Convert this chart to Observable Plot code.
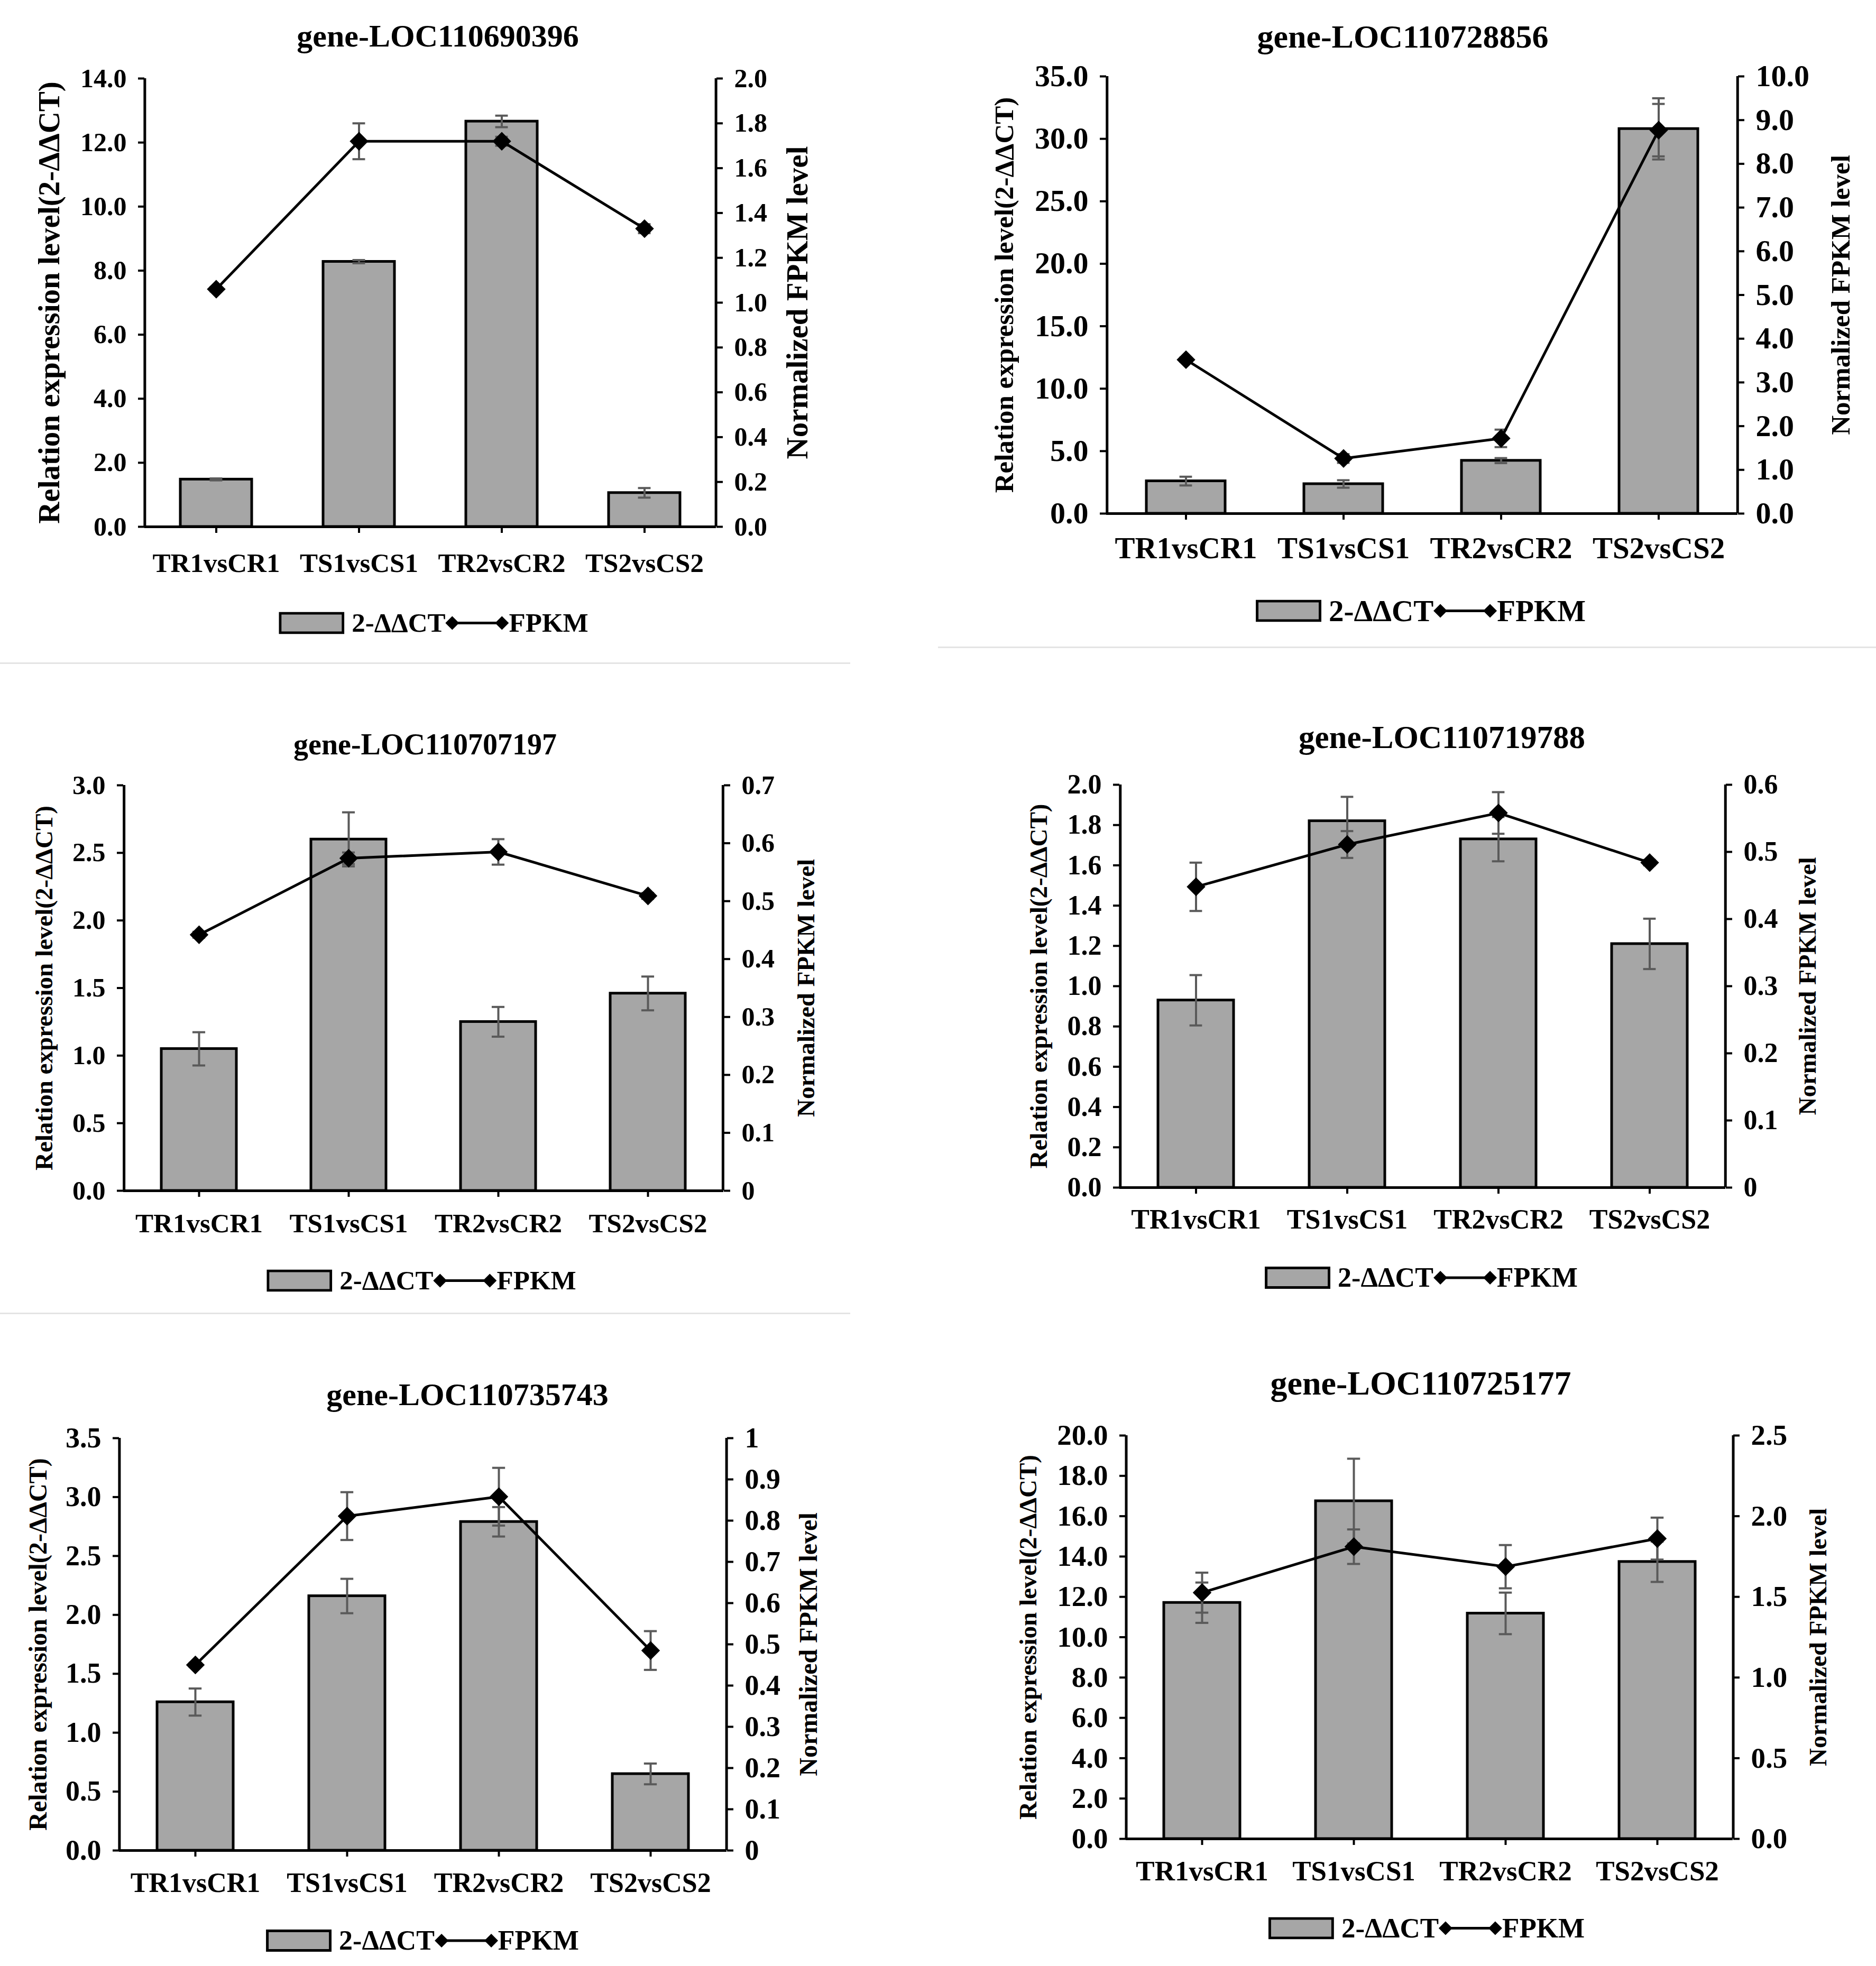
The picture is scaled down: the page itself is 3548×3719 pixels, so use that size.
<!DOCTYPE html>
<html>
<head>
<meta charset="utf-8">
<script src="https://cdn.jsdelivr.net/npm/d3@7"></script>
<script src="https://cdn.jsdelivr.net/npm/@observablehq/plot@0.6"></script>
<style>
  body { margin: 0; background: #fff; }
  #page { position: relative; width: 3548px; height: 3719px; overflow: hidden;
          font-family: "Liberation Serif", "Times New Roman", serif; font-weight: bold; color: #000; }
  .layer { position: absolute; }
  .layer svg { overflow: visible; }
  .title { position: absolute; transform: translate(-50%, -50%); white-space: nowrap; line-height: 1; }
  .legend { position: absolute; transform: translate(-50%, -50%); display: flex; align-items: center;
            white-space: nowrap; line-height: 1; }
  .sep { position: absolute; height: 3px; background: #e4e4e4; }
</style>
</head>
<body>
<div id="page"></div>
<script>
const categories = ["TR1vsCR1", "TS1vsCS1", "TR2vsCR2", "TS2vsCS2"];
const genes = ["gene-LOC110690396", "gene-LOC110728856", "gene-LOC110707197",
               "gene-LOC110719788", "gene-LOC110735743", "gene-LOC110725177"];
const leftTitle = "Relation expression level(2-ΔΔCT)";
const rightTitle = "Normalized FPKM level";

// 2-ΔΔCT bars (left axis) and FPKM line (right axis), with error half-widths
const ct1 = [1.48, 8.28, 12.66, 1.06];
const ctErr1 = [0.03, 0.05, 0.18, 0.15];
const fpkm1 = [1.06, 1.72, 1.72, 1.33];
const fpkmErr1 = [0.01, 0.08, 0.02, 0.02];

const ct2 = [2.6, 2.37, 4.24, 30.8];
const ctErr2 = [0.35, 0.3, 0.2, 2.45];
const fpkm2 = [3.52, 1.26, 1.72, 8.77];
const fpkmErr2 = [0.05, 0.1, 0.2, 0.6];

const ct3 = [1.05, 2.6, 1.25, 1.46];
const ctErr3 = [0.123, 0.2, 0.11, 0.125];
const fpkm3 = [0.442, 0.574, 0.585, 0.509];
const fpkmErr3 = [0.005, 0.01, 0.022, 0.005];

const ct4 = [0.93, 1.82, 1.73, 1.21];
const ctErr4 = [0.125, 0.12, 0.11, 0.125];
const fpkm4 = [0.448, 0.511, 0.558, 0.484];
const fpkmErr4 = [0.036, 0.02, 0.031, 0.004];

const ct5 = [1.26, 2.16, 2.79, 0.65];
const ctErr5 = [0.115, 0.146, 0.125, 0.088];
const fpkm5 = [0.45, 0.811, 0.858, 0.485];
const fpkmErr5 = [0.005, 0.058, 0.07, 0.047];

const ct6 = [11.71, 16.75, 11.18, 13.74];
const ctErr6 = [1.0, 2.1, 1.03, 1.0];
const fpkm6 = [1.526, 1.811, 1.687, 1.861];
const fpkmErr6 = [0.124, 0.107, 0.134, 0.13];

// tick labels as printed
const leftTicks1 = ["0.0", "2.0", "4.0", "6.0", "8.0", "10.0", "12.0", "14.0"];
const rightTicks1 = ["0.0", "0.2", "0.4", "0.6", "0.8", "1.0", "1.2", "1.4", "1.6", "1.8", "2.0"];
const leftTicks2 = ["0.0", "5.0", "10.0", "15.0", "20.0", "25.0", "30.0", "35.0"];
const rightTicks2 = ["0.0", "1.0", "2.0", "3.0", "4.0", "5.0", "6.0", "7.0", "8.0", "9.0", "10.0"];
const leftTicks3 = ["0.0", "0.5", "1.0", "1.5", "2.0", "2.5", "3.0"];
const rightTicks3 = ["0", "0.1", "0.2", "0.3", "0.4", "0.5", "0.6", "0.7"];
const leftTicks4 = ["0.0", "0.2", "0.4", "0.6", "0.8", "1.0", "1.2", "1.4", "1.6", "1.8", "2.0"];
const rightTicks4 = ["0", "0.1", "0.2", "0.3", "0.4", "0.5", "0.6"];
const leftTicks5 = ["0.0", "0.5", "1.0", "1.5", "2.0", "2.5", "3.0", "3.5"];
const rightTicks5 = ["0", "0.1", "0.2", "0.3", "0.4", "0.5", "0.6", "0.7", "0.8", "0.9", "1"];
const leftTicks6 = ["0.0", "2.0", "4.0", "6.0", "8.0", "10.0", "12.0", "14.0", "16.0", "18.0", "20.0"];
const rightTicks6 = ["0.0", "0.5", "1.0", "1.5", "2.0", "2.5"];

// layout of each panel in page pixels
const panels = [
  {gene: genes[0], ct: ct1, ctErr: ctErr1, fpkm: fpkm1, fpkmErr: fpkmErr1, lt: leftTicks1, rt: rightTicks1,
   col: 0, L: 273, R: 1354, T: 148, B: 996, tx: 828, ty: 68, titleSize: 60, tickFont: 50, catFont: 51,
   catPad: 37, axisTitleSize: 57, leftOff: 180, rightOff: 154, lx: 820, ly: 1178},
  {gene: genes[1], ct: ct2, ctErr: ctErr2, fpkm: fpkm2, fpkmErr: fpkmErr2, lt: leftTicks2, rt: rightTicks2,
   col: 1, L: 2092, R: 3286, T: 144, B: 971, tx: 2653, ty: 69, titleSize: 62, tickFont: 58, catFont: 57,
   catPad: 32, axisTitleSize: 51, leftOff: 193, rightOff: 195, lx: 2687, ly: 1155},
  {gene: genes[2], ct: ct3, ctErr: ctErr3, fpkm: fpkm3, fpkmErr: fpkmErr3, lt: leftTicks3, rt: rightTicks3,
   col: 0, L: 233, R: 1368, T: 1485, B: 2252, tx: 804, ty: 1408, titleSize: 56, tickFont: 50, catFont: 51,
   catPad: 30, axisTitleSize: 47, leftOff: 150, rightOff: 156, lx: 797, ly: 2422},
  {gene: genes[3], ct: ct4, ctErr: ctErr4, fpkm: fpkm4, fpkmErr: fpkmErr4, lt: leftTicks4, rt: rightTicks4,
   col: 1, L: 2117, R: 3263, T: 1484, B: 2246, tx: 2727, ty: 1394, titleSize: 61, tickFont: 52, catFont: 52,
   catPad: 29, axisTitleSize: 47, leftOff: 153, rightOff: 155, lx: 2688, ly: 2417},
  {gene: genes[4], ct: ct5, ctErr: ctErr5, fpkm: fpkm5, fpkmErr: fpkmErr5, lt: leftTicks5, rt: rightTicks5,
   col: 0, L: 225, R: 1374, T: 2720, B: 3500, tx: 884, ty: 2638, titleSize: 60, tickFont: 54, catFont: 52,
   catPad: 30, axisTitleSize: 48, leftOff: 153, rightOff: 155, lx: 799, ly: 3671},
  {gene: genes[5], ct: ct6, ctErr: ctErr6, fpkm: fpkm6, fpkmErr: fpkmErr6, lt: leftTicks6, rt: rightTicks6,
   col: 1, L: 2129, R: 3277, T: 2715, B: 3478, tx: 2687, ty: 2617, titleSize: 64, tickFont: 55, catFont: 53,
   catPad: 29, axisTitleSize: 47, leftOff: 185, rightOff: 161, lx: 2698, ly: 3647},
];

const page = document.getElementById("page");
const COLW = 1774;
const barFill = "#a6a6a6";
const errColor = "#5a5a5a";
const SW = 5;

function place(el, left, top) {
  el.style.left = left + "px";
  el.style.top = top + "px";
  page.append(el);
  return el;
}

function errorMarks(rows, v, e, inset) {
  return [
    Plot.ruleX(rows, {x: "cat", y1: d => d[v] - d[e], y2: d => d[v] + d[e], stroke: errColor, strokeWidth: 4}),
    Plot.tickY(rows, {x: "cat", y: d => d[v] + d[e], stroke: errColor, strokeWidth: 4, insetLeft: inset, insetRight: inset}),
    Plot.tickY(rows, {x: "cat", y: d => d[v] - d[e], stroke: errColor, strokeWidth: 4, insetLeft: inset, insetRight: inset}),
  ];
}

function drawPanel(p) {
  const x0 = p.col * COLW;
  const mt = 40, mb = 150;
  const height = mt + (p.B - p.T) + mb;
  const rows = categories.map((c, i) => ({
    cat: c, ct: p.ct[i], ctErr: p.ctErr[i], fpkm: p.fpkm[i], fpkmErr: p.fpkmErr[i]
  }));
  const step = (p.R - p.L) / 4;
  const inset = (step * 0.5 - 24) / 2;
  const leftVals = p.lt.map(Number), rightVals = p.rt.map(Number);
  const leftMax = d3.max(leftVals);
  const leftFmt = new Map(leftVals.map((v, i) => [v, p.lt[i]]));
  const rightFmt = new Map(rightVals.map((v, i) => [v, p.rt[i]]));
  const common = {
    width: COLW, height,
    marginLeft: p.L - x0, marginRight: x0 + COLW - p.R, marginTop: mt, marginBottom: mb,
  };
  const font = {fontFamily: "Liberation Serif", fontWeight: "bold", color: "black", overflow: "visible"};

  const bars = Plot.plot({
    ...common,
    style: {...font, background: "white"},
    x: {type: "band", domain: categories, paddingInner: 0.5, paddingOuter: 0.25},
    y: {domain: [0, leftMax]},
    marks: [
      Plot.barY(rows, {x: "cat", y: "ct", fill: barFill, stroke: "black", strokeWidth: SW}),
      ...errorMarks(rows, "ct", "ctErr", inset),
      // axis lines: left, right and bottom edges of the frame
      Plot.ruleX([categories[0]], {x: d => d, y1: 0, y2: leftMax, dx: -step / 2, stroke: "black", strokeWidth: SW}),
      Plot.ruleX([categories[3]], {x: d => d, y1: 0, y2: leftMax, dx: step / 2, stroke: "black", strokeWidth: SW}),
      Plot.ruleY([0], {stroke: "black", strokeWidth: SW}),
      Plot.axisY({anchor: "left", ticks: leftVals, tickFormat: d => leftFmt.get(d), tickSize: 12,
                  tickPadding: 22, strokeWidth: 4, label: null, fontSize: p.tickFont}),
      Plot.axisX({anchor: "bottom", tickSize: 12, tickPadding: p.catPad, strokeWidth: 4,
                  label: null, fontSize: p.catFont}),
      Plot.text([leftTitle], {text: d => d, frameAnchor: "left", textAnchor: "middle", rotate: -90,
                              dx: -p.leftOff, fontSize: p.axisTitleSize}),
    ],
  });

  const line = Plot.plot({
    ...common,
    style: {...font, background: "transparent"},
    x: {type: "band", domain: categories, paddingInner: 0.5, paddingOuter: 0.25, axis: null},
    y: {domain: [0, d3.max(rightVals)]},
    marks: [
      ...errorMarks(rows, "fpkm", "fpkmErr", inset),
      Plot.line(rows, {x: "cat", y: "fpkm", stroke: "black", strokeWidth: SW}),
      Plot.dot(rows, {x: "cat", y: "fpkm", symbol: "diamond2", r: 15, fill: "black", stroke: "black"}),
      Plot.axisY({anchor: "right", ticks: rightVals, tickFormat: d => rightFmt.get(d), tickSize: 12,
                  tickPadding: 22, strokeWidth: 4, label: null, fontSize: p.tickFont}),
      Plot.text([rightTitle], {text: d => d, frameAnchor: "right", textAnchor: "middle", rotate: -90,
                               dx: p.rightOff, fontSize: p.axisTitleSize}),
    ],
  });

  for (const chart of [bars, line]) {
    const wrap = document.createElement("div");
    wrap.className = "layer";
    wrap.style.width = COLW + "px";
    wrap.append(chart);
    place(wrap, x0, p.T - mt);
  }

  const title = document.createElement("div");
  title.className = "title";
  title.style.fontSize = p.titleSize + "px";
  title.textContent = p.gene;
  place(title, p.tx, p.ty);

  const lg = document.createElement("div");
  lg.className = "legend";
  lg.style.fontSize = p.catFont + "px";
  lg.innerHTML =
    `<svg width="124" height="42"><rect x="2.5" y="2.5" width="119" height="37" fill="${barFill}" stroke="black" stroke-width="5"/></svg>` +
    `<span style="margin-left:14px">2-ΔΔCT</span>` +
    `<svg width="120" height="32"><line x1="13" y1="16" x2="107" y2="16" stroke="black" stroke-width="5"/>` +
    `<path d="M13 3L26 16L13 29L0 16Z M107 3L120 16L107 29L94 16Z" fill="black"/></svg>` +
    `<span>FPKM</span>`;
  place(lg, p.lx, p.ly);
}

panels.forEach(drawPanel);

// faint separators between the panels
[[0, 1253, 1608], [0, 2483, 1608], [1774, 1223, 1774]].forEach(([x, y, w]) => {
  const s = document.createElement("div");
  s.className = "sep";
  s.style.width = w + "px";
  place(s, x, y);
});
</script>
</body>
</html>
